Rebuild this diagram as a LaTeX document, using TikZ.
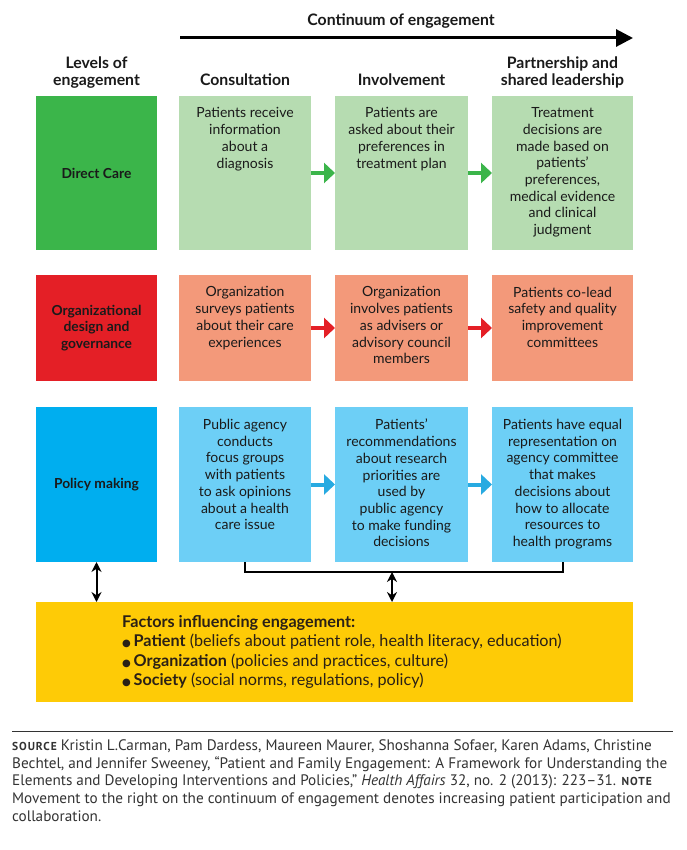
\documentclass[tikz,border=0pt]{standalone}
\usepackage{fontspec}
\setmainfont{Lato}
\newfontfamily\boxfont{Lato}
\newfontfamily\condfont{PT Sans}
\newfontfamily\dejavu{DejaVu Sans}
\usetikzlibrary{arrows.meta,calc}
\definecolor{dgreen}{HTML}{3BB54A}
\definecolor{lgreen}{HTML}{B6DCB1}
\definecolor{dred}{HTML}{E41F26}
\definecolor{lred}{HTML}{F3997A}
\definecolor{dblue}{HTML}{00AEEF}
\definecolor{lblue}{HTML}{6DCFF6}
\definecolor{ablue}{HTML}{27AAE1}
\definecolor{fyellow}{HTML}{FECB06}
\definecolor{ftext}{HTML}{2A2016}
\definecolor{srctext}{HTML}{333333}
\definecolor{txt}{HTML}{1A1A1A}
\tikzset{
  cell/.style={rectangle, inner sep=0pt, outer sep=0pt, draw=none},
  lvl/.style={cell, text=txt, align=center, font=\boxfont\bfseries\fontsize{13.8}{16.8}\selectfont},
  boxtext/.style={inner sep=0pt, align=center, text=txt, anchor=north, font=\boxfont\fontsize{14}{16.7}\selectfont},
  head/.style={inner sep=0pt, anchor=base, text=txt, font=\boxfont\bfseries\fontsize{15.8}{17}\selectfont},
  flowarrow/.style={line width=4pt, -{Triangle[length=11pt,width=20pt]}},
  dblarrow/.style={line width=2pt, {Stealth[length=10pt,width=10pt]}-{Stealth[length=10pt,width=10pt]}},
  srcline/.style={inner sep=0pt, anchor=base west, text=srctext, font=\condfont\fontsize{15.2}{17.7}\selectfont},
}
\newcommand{\smc}[1]{{\fontsize{11.5}{11.5}\selectfont\bfseries\addfontfeatures{LetterSpace=8} #1}}
\begin{document}
\begin{tikzpicture}[x=1pt,y=-1pt]
\path[use as bounding box, fill=white] (0,0) rectangle (686,850);

% header
\node[head] (cont) at (401,26) {Continuum of engagement};
\coordinate (hs) at (180,38);
\coordinate (he) at (633,38);
\draw[line width=3pt, -{Triangle[length=17pt,width=17pt]}] (hs) -- (he);
\node[head] (lev1) at (96.5,69) {Levels of};
\node[head] (lev2) at (96.5,86) {engagement};
\node[head] (h2) at (245,86) {Consultation};
\node[head] (h3) at (401.5,86) {Involvement};
\node[head] (h4a) at (562.5,69) {Partnership and};
\node[head] (h4b) at (562.5,86) {shared leadership};

% row 1
\node[lvl, fill=dgreen, minimum width=121, minimum height=154] (l1) at (96.5,173) {Direct Care};
\node[cell, fill=lgreen, minimum width=132, minimum height=154] (c21) at (245,173) {};
\node[cell, fill=lgreen, minimum width=133, minimum height=154] (c31) at (401.5,173) {};
\node[cell, fill=lgreen, minimum width=141, minimum height=154] (c41) at (562.5,173) {};
\node[boxtext] (t21) at ([yshift=-11.5pt]c21.north) {Patients receive\\information\\about a\\diagnosis};
\node[boxtext] (t31) at ([yshift=-11.5pt]c31.north) {Patients are\\asked about their\\preferences in\\treatment plan};
\node[boxtext] (t41) at ([yshift=-11.5pt]c41.north) {Treatment\\decisions are\\made based on\\patients’\\preferences,\\medical evidence\\and clinical\\judgment};

% row 2
\node[lvl, fill=dred, minimum width=121, minimum height=106] (l2) at (96.5,328) {Organizational\\design and\\governance};
\node[cell, fill=lred, minimum width=132, minimum height=106] (c22) at (245,328) {};
\node[cell, fill=lred, minimum width=133, minimum height=106] (c32) at (401.5,328) {};
\node[cell, fill=lred, minimum width=141, minimum height=106] (c42) at (562.5,328) {};
\node[boxtext] (t22) at ([yshift=-11.5pt]c22.north) {Organization\\surveys patients\\about their care\\experiences};
\node[boxtext] (t32) at ([yshift=-11.5pt]c32.north) {Organization\\involves patients\\as advisers or\\advisory council\\members};
\node[boxtext] (t42) at ([yshift=-11.5pt]c42.north) {Patients co-lead\\safety and quality\\improvement\\committees};

% row 3
\node[lvl, fill=dblue, minimum width=121, minimum height=155] (l3) at (96.5,484.5) {Policy making};
\node[cell, fill=lblue, minimum width=132, minimum height=155] (c23) at (245,484.5) {};
\node[cell, fill=lblue, minimum width=133, minimum height=155] (c33) at (401.5,484.5) {};
\node[cell, fill=lblue, minimum width=141, minimum height=155] (c43) at (562.5,484.5) {};
\node[boxtext] (t23) at ([yshift=-12pt]c23.north) {Public agency\\conducts\\focus groups\\with patients\\to ask opinions\\about a health\\care issue};
\node[boxtext] (t33) at ([yshift=-12pt]c33.north) {Patients’\\recommendations\\about research\\priorities are\\used by\\public agency\\to make funding\\decisions};
\node[boxtext] (t43) at ([yshift=-12pt]c43.north) {Patients have equal\\representation on\\agency committee\\that makes\\decisions about\\how to allocate\\resources to\\health programs};

% flow arrows
\draw[flowarrow, dgreen] (c21.east) -- (c31.west);
\draw[flowarrow, dgreen] (c31.east) -- (c41.west);
\draw[flowarrow, dred] (c22.east) -- (c32.west);
\draw[flowarrow, dred] (c32.east) -- (c42.west);
\draw[flowarrow, ablue] (c23.east) -- (c33.west);
\draw[flowarrow, ablue] (c33.east) -- (c43.west);

% factors box
\node[cell, fill=fyellow, minimum width=597, minimum height=100] (fac) at (334.5,652) {};
\node[inner sep=0pt, anchor=west, align=left, text=ftext, font=\boxfont\fontsize{16.2}{19.3}\selectfont] (factxt) at ([xshift=86pt,yshift=0pt]fac.west)
 {\textbf{Factors influencing engagement:}\\
  {\dejavu\fontsize{10}{10}\selectfont ●}\,\textbf{Patient} (beliefs about patient role, health literacy, education)\\
  {\dejavu\fontsize{10}{10}\selectfont ●}\,\textbf{Organization} (policies and practices, culture)\\
  {\dejavu\fontsize{10}{10}\selectfont ●}\,\textbf{Society} (social norms, regulations, policy)};

% connectors to factors
\draw[dblarrow] (l3.south) -- (l3.south |- fac.north);
\draw[line width=2pt] (c23.south) -- ++(0,10) coordinate (bl) -| (c43.south);
\coordinate (brk) at (392,572);
\draw[dblarrow] (brk) -- (brk |- fac.north);

% source
\coordinate (sl) at (12,731);
\coordinate (sr) at (673,731);
\draw[line width=1pt, black!80] (sl) -- (sr);
\node[srcline] (s1) at (12,750) {\smc{SOURCE} Kristin L.Carman, Pam Dardess, Maureen Maurer, Shoshanna Sofaer, Karen Adams, Christine};
\node[srcline] (s2) at (12,768) {Bechtel, and Jennifer Sweeney, “Patient and Family Engagement: A Framework for Understanding the};
\node[srcline] (s3) at (12,785.5) {Elements and Developing Interventions and Policies,” \textit{Health Affairs} 32, no. 2 (2013): 223–31. \smc{NOTE}};
\node[srcline] (s4) at (12,803) {Movement to the right on the continuum of engagement denotes increasing patient participation and};
\node[srcline] (s5) at (12,821) {collaboration.};
\end{tikzpicture}
\end{document}
